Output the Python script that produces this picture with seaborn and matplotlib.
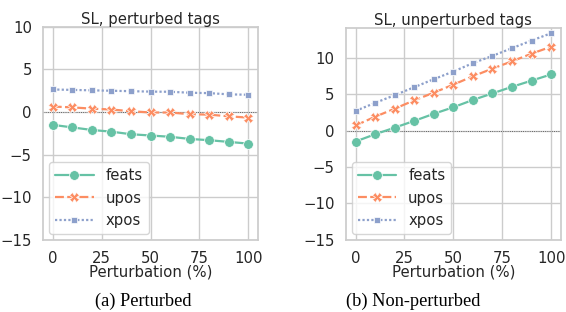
import pandas as pd
import matplotlib
matplotlib.use("Agg")
import matplotlib.pyplot as plt
import seaborn as sns

# -------------------------------------------------------
# DONNEES
# -------------------------------------------------------

perturbation = [0, 10, 20, 30, 40, 50, 60, 70, 80, 90, 100]
series = ["feats", "upos", "xpos"]

pert_feats = [-1.5, -1.8, -2.1, -2.3, -2.6, -2.75, -2.9, -3.15, -3.3, -3.5, -3.7]
pert_upos = [0.65, 0.55, 0.4, 0.3, 0.1, -0.05, -0.05, -0.25, -0.3, -0.5, -0.65]
pert_xpos = [2.65, 2.6, 2.55, 2.5, 2.45, 2.4, 2.38, 2.27, 2.22, 2.08, 2.03]

unpert_feats = [-1.5, -0.5, 0.4, 1.33, 2.3, 3.2, 4.2, 5.1, 6.0, 6.85, 7.7]
unpert_upos = [0.7, 1.9, 3.0, 4.15, 5.2, 6.3, 7.45, 8.5, 9.5, 10.55, 11.5]
unpert_xpos = [2.7, 3.8, 4.85, 5.95, 7.05, 8.1, 9.25, 10.25, 11.3, 12.35, 13.35]

titles = ["SL, perturbed tags", "SL, unperturbed tags"]
captions = ["(a) Perturbed", "(b) Non-perturbed"]


def to_long(feats, upos, xpos):
    rows = []
    for name, vals in zip(series, [feats, upos, xpos]):
        for p, v in zip(perturbation, vals):
            rows.append({"Perturbation (%)": p, "delta": v, "tag": name})
    return pd.DataFrame(rows)


df_pert = to_long(pert_feats, pert_upos, pert_xpos)
df_unpert = to_long(unpert_feats, unpert_upos, unpert_xpos)

# -------------------------------------------------------
# FIGURE
# -------------------------------------------------------

sns.set_theme(style="whitegrid", palette="Set2")
plt.rcParams["font.family"] = ["DejaVu Sans"]

fig = plt.figure(figsize=(5.66, 3.12), dpi=100)
ax1 = fig.add_axes([0.076, 0.231, 0.380, 0.683])
ax2 = fig.add_axes([0.611, 0.231, 0.380, 0.680])

FS = 10.7

for ax, df, title in zip([ax1, ax2], [df_pert, df_unpert], titles):
    sns.lineplot(
        data=df, x="Perturbation (%)", y="delta",
        hue="tag", style="tag", markers=True, dashes=True,
        markersize=7, linewidth=1.6, markeredgewidth=0.5,
        ax=ax
    )
    ax.axhline(0, color="#444444", lw=0.6, ls=":", zorder=1)
    ax.set_title(title, fontsize=FS, pad=2)
    ax.set_xlabel("Perturbation (%)", fontsize=FS, labelpad=-1)
    ax.set_ylabel("")
    ax.set_xticks([0, 25, 50, 75, 100])
    ax.tick_params(labelsize=FS, pad=2)
    ax.legend(loc="lower left", fontsize=FS, handlelength=2.6,
              borderaxespad=0.4)

ax1.set_ylim(-15, 10)
ax1.set_yticks([-15, -10, -5, 0, 5, 10])
ax2.set_ylim(-15, 14.1)
ax2.set_yticks([-15, -10, -5, 0, 5, 10])

for x, cap in zip([0.253, 0.73], captions):
    fig.text(x, 0.035, cap, ha="center", va="center",
             fontsize=13.2, family="Liberation Serif", color="black")

fig.savefig("out.png", dpi=100)
